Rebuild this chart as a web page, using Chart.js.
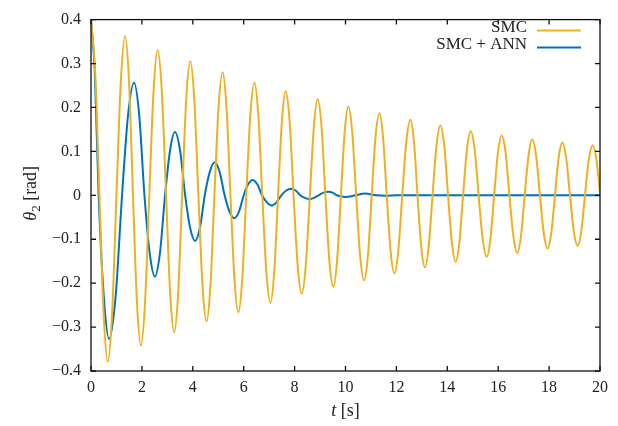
<!DOCTYPE html>
<html>
<head>
<meta charset="utf-8">
<script src="https://cdn.jsdelivr.net/npm/chart.js@4/dist/chart.umd.min.js"></script>
<style>
  html, body { margin: 0; padding: 0; background: #fff; }
  canvas { display: block; }
</style>
</head>
<body>
<canvas id="c" width="618" height="426"></canvas>
<script>
// Pendulum angle theta_2 under sliding-mode control, with and without the neural-network term.
// Samples of each response along its oscillation: time [s] and angle [rad].
const smcTime = [0, 0.165, 0.33, 0.495, 0.66, 0.83, 1.00, 1.17, 1.34, 1.495, 1.65, 1.805, 1.96,
  2.125, 2.29, 2.455, 2.62, 2.785, 2.95, 3.11, 3.27, 3.425, 3.58, 3.74, 3.90, 4.06, 4.22, 4.38,
  4.54, 4.695, 4.85, 5.01, 5.17, 5.325, 5.48, 5.635, 5.79, 5.945, 6.10, 6.26, 6.42, 6.575, 6.73,
  6.89, 7.05, 7.20, 7.35, 7.50, 7.65, 7.805, 7.96, 8.12, 8.28, 8.44, 8.60, 8.755, 8.91, 9.06,
  9.21, 9.365, 9.52, 9.67, 9.82, 9.965, 10.11, 10.265, 10.42, 10.575, 10.73, 10.88, 11.03,
  11.18, 11.33, 11.475, 11.62, 11.77, 11.92, 12.075, 12.23, 12.39, 12.55, 12.69, 12.83, 12.975,
  13.12, 13.27, 13.42, 13.575, 13.73, 13.88, 14.03, 14.18, 14.33, 14.475, 14.62, 14.77, 14.92,
  15.075, 15.23, 15.39, 15.55, 15.695, 15.84, 15.99, 16.14, 16.29, 16.44, 16.595, 16.75,
  16.895, 17.04, 17.19, 17.34, 17.49, 17.64, 17.79, 17.94, 18.085, 18.23, 18.375, 18.52,
  18.67, 18.82, 18.97, 19.12, 19.265, 19.41, 19.56, 19.71, 19.86, 20.0];
const smcTheta = [0.40, 0.28, 0, -0.268, -0.379, -0.268, 0, 0.257, 0.362, 0.257, 0, -0.243, -0.342,
  -0.243, 0, 0.235, 0.331, 0.235, 0, -0.222, -0.312, -0.222, 0, 0.217, 0.305, 0.217, 0, -0.204,
  -0.287, -0.204, 0, 0.199, 0.280, 0.199, 0, -0.189, -0.266, -0.189, 0, 0.182, 0.257, 0.182, 0,
  -0.174, -0.245, -0.174, 0, 0.168, 0.237, 0.168, 0, -0.159, -0.224, -0.159, 0, 0.155, 0.219, 0.155,
  0, -0.148, -0.208, -0.148, 0, 0.143, 0.202, 0.143, 0, -0.138, -0.194, -0.138, 0,
  0.133, 0.187, 0.133, 0, -0.126, -0.178, -0.126, 0, 0.122, 0.172, 0.122, 0, -0.116,
  -0.164, -0.116, 0, 0.113, 0.159, 0.113, 0, -0.107, -0.151, -0.107, 0, 0.104, 0.146,
  0.104, 0, -0.099, -0.140, -0.099, 0, 0.097, 0.136, 0.097, 0, -0.093, -0.131,
  -0.093, 0, 0.090, 0.127, 0.090, 0, -0.086, -0.121, -0.086, 0, 0.085, 0.120,
  0.085, 0, -0.082, -0.115, -0.082, 0, 0.081, 0.114, 0.081, 0.005];

const annTime = [0, 0.15, 0.30, 0.505, 0.71, 0.965, 1.22, 1.455, 1.69, 1.895, 2.10, 2.305, 2.51,
  2.71, 2.91, 3.105, 3.30, 3.50, 3.70, 3.895, 4.09, 4.28, 4.47, 4.665, 4.86, 5.055, 5.25, 5.44,
  5.63, 5.815, 6.00, 6.175, 6.35, 6.535, 6.72, 6.91, 7.10, 7.29, 7.48, 7.67, 7.86, 8.04, 8.22,
  8.40, 8.58, 8.765, 8.95, 9.135, 9.32, 9.49, 9.66, 10.00, 10.40, 10.77, 11.20, 11.60, 12.00, 20.0];
const annTheta = [0.40, 0.28, 0, -0.232, -0.327, -0.232, 0, 0.182, 0.256, 0.182, 0, -0.131, -0.185,
  -0.131, 0, 0.102, 0.144, 0.102, 0, -0.074, -0.104, -0.074, 0, 0.053, 0.075, 0.053, 0, -0.037,
  -0.052, -0.037, 0, 0.025, 0.035, 0.025, 0, -0.016, -0.023, -0.016, 0, 0.011, 0.015, 0.011, 0,
  -0.006, -0.009, -0.006, 0, 0.006, 0.008, 0.006, 0, -0.004, 0, 0.004, 0, -0.001, 0, 0];

const xTicks = [0, 2, 4, 6, 8, 10, 12, 14, 16, 18, 20];
const yTicks = [-0.4, -0.3, -0.2, -0.1, 0, 0.1, 0.2, 0.3, 0.4];
const seriesNames = ['SMC', 'SMC + ANN'];

const ORANGE = '#EDB120';
const BLUE = '#0072BD';
const SERIF = '"Liberation Serif", "DejaVu Serif", serif';

const toXY = (ts, vs) => ts.map((t, i) => ({ x: t, y: vs[i] }));

function fmtY(v) {
  if (Math.abs(v) < 1e-9) return '0';
  return (v < 0 ? '\u2212' : '') + Math.abs(v).toFixed(1);
}

// Box frame with inward ticks on all four sides.
const framePlugin = {
  id: 'frame',
  afterDatasetsDraw(chart) {
    const { ctx, chartArea: a, scales } = chart;
    const L = 5;
    ctx.save();
    ctx.strokeStyle = '#111';
    ctx.lineWidth = 1.3;
    ctx.beginPath();
    xTicks.forEach(v => {
      const px = scales.x.getPixelForValue(v);
      ctx.moveTo(px, a.bottom); ctx.lineTo(px, a.bottom - L);
      ctx.moveTo(px, a.top); ctx.lineTo(px, a.top + L);
    });
    yTicks.forEach(v => {
      const py = scales.y.getPixelForValue(v);
      ctx.moveTo(a.left, py); ctx.lineTo(a.left + L, py);
      ctx.moveTo(a.right, py); ctx.lineTo(a.right - L, py);
    });
    ctx.stroke();
    ctx.strokeRect(a.left, a.top, a.right - a.left, a.bottom - a.top);
    ctx.restore();
  }
};

// Key in the upper right: right-aligned names followed by line samples.
const keyPlugin = {
  id: 'key',
  afterDraw(chart) {
    const { ctx, chartArea: a } = chart;
    const colors = [ORANGE, BLUE];
    ctx.save();
    ctx.font = '17px ' + SERIF;
    ctx.fillStyle = '#222';
    ctx.textAlign = 'right';
    ctx.textBaseline = 'middle';
    seriesNames.forEach((name, i) => {
      const y = a.top + 8 + i * 17;
      ctx.fillText(name, a.right - 73, y);
      ctx.strokeStyle = colors[i];
      ctx.lineWidth = 2;
      ctx.beginPath();
      ctx.moveTo(a.right - 63, y + 3);
      ctx.lineTo(a.right - 19, y + 3);
      ctx.stroke();
    });
    ctx.restore();
  }
};

// Axis titles with italic symbols and a subscript.
const titlePlugin = {
  id: 'titles',
  afterDraw(chart) {
    const { ctx, chartArea: a } = chart;
    ctx.save();
    ctx.fillStyle = '#222';
    ctx.textBaseline = 'alphabetic';
    ctx.textAlign = 'left';
    // x title: t [s]
    const fi = 'italic 18px ' + SERIF, fn = '18px ' + SERIF;
    ctx.font = fi; const w1 = ctx.measureText('t').width;
    ctx.font = fn; const w2 = ctx.measureText(' [s]').width;
    const x0 = (a.left + a.right) / 2 - (w1 + w2) / 2;
    const yb = 416;
    ctx.font = fi; ctx.fillText('t', x0, yb);
    ctx.font = fn; ctx.fillText(' [s]', x0 + w1, yb);
    // y title: theta_2 [rad], rotated
    ctx.translate(36, (a.top + a.bottom) / 2 - 2);
    ctx.rotate(-Math.PI / 2);
    const sub = '13px ' + SERIF;
    ctx.font = fi; const t1 = ctx.measureText('\u03B8').width;
    ctx.font = sub; const t2 = ctx.measureText('2').width;
    ctx.font = fn; const t3 = ctx.measureText(' [rad]').width;
    const s = -(t1 + t2 + t3) / 2;
    ctx.font = fi; ctx.fillText('\u03B8', s, 0);
    ctx.font = sub; ctx.fillText('2', s + t1, 4);
    ctx.font = fn; ctx.fillText(' [rad]', s + t1 + t2, 0);
    ctx.restore();
  }
};

new Chart(document.getElementById('c'), {
  type: 'line',
  data: {
    datasets: [
      {
        label: seriesNames[0],
        data: toXY(smcTime, smcTheta),
        borderColor: ORANGE,
        borderWidth: 2,
        pointRadius: 0,
        cubicInterpolationMode: 'monotone',
        fill: false
      },
      {
        label: seriesNames[1],
        data: toXY(annTime, annTheta),
        borderColor: BLUE,
        borderWidth: 2,
        pointRadius: 0,
        cubicInterpolationMode: 'monotone',
        fill: false
      }
    ]
  },
  options: {
    responsive: false,
    animation: false,
    layout: { padding: { top: 14, right: 18, left: 0, bottom: 0 } },
    plugins: { legend: { display: false }, tooltip: { enabled: false } },
    scales: {
      x: {
        type: 'linear',
        min: 0, max: 20,
        grid: { display: false, drawTicks: false },
        border: { display: false },
        afterBuildTicks: s => { s.ticks = xTicks.map(v => ({ value: v })); },
        afterFit: s => { s.height = 55; },
        ticks: {
          color: '#222',
          font: { family: SERIF, size: 16 },
          padding: 7,
          maxRotation: 0,
          callback: v => String(v)
        }
      },
      y: {
        type: 'linear',
        min: -0.4, max: 0.4,
        grid: { display: false, drawTicks: false },
        border: { display: false },
        afterBuildTicks: s => { s.ticks = yTicks.map(v => ({ value: v })); },
        afterFit: s => { s.width = 91; },
        ticks: {
          color: '#222',
          font: { family: SERIF, size: 16 },
          padding: 10,
          callback: v => fmtY(v)
        }
      }
    }
  },
  plugins: [framePlugin, keyPlugin, titlePlugin]
});
</script>
</body>
</html>
